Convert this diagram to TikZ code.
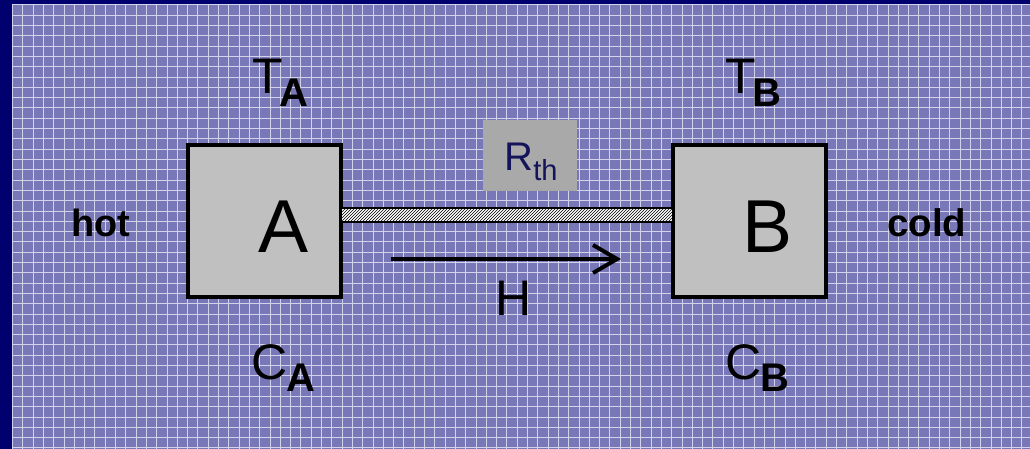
\documentclass[tikz,border=0pt]{standalone}
\usepackage{fontspec}
\setmainfont{Liberation Sans}
\usetikzlibrary{arrows.meta,patterns,calc}
\definecolor{bgc}{RGB}{120,120,184}
\definecolor{navyb}{RGB}{0,0,110}
\definecolor{gridc}{RGB}{210,210,234}
\definecolor{boxgray}{RGB}{192,192,192}
\definecolor{rgray}{RGB}{169,169,169}
\definecolor{rtext}{RGB}{20,20,90}
\newcommand{\fs}[1]{\fontsize{#1pt}{#1pt}\selectfont}
\begin{document}
\begin{tikzpicture}[x=1pt,y=-1pt,
  blk/.style={draw=black, line width=4pt, fill=boxgray, minimum width=153pt, minimum height=152pt, inner sep=0pt, outer sep=0pt},
  lbl/.style={inner sep=0pt, text=black},
  gridline/.style={gridc, line width=1pt}]
\useasboundingbox (0,0) rectangle (1030,449);
% background
\fill[navyb] (0,0) rectangle (1030,449);
\fill[bgc] (12,4.5) rectangle (1030,449);
\foreach \i in {0,...,99} \draw[gridline] ({12.5+10.3*\i},4.5) -- ({12.5+10.3*\i},449);
\foreach \j in {0,...,43} \draw[gridline] (12,{5+10.3*\j}) -- (1030,{5+10.3*\j});
% boxes
\node[blk] (A) at (264.5,221) {};
\node[blk] (B) at (749.5,221) {};
% bar
\fill[white] ($(A.east)+(0,-13)$) rectangle ($(B.west)+(0,1)$);
\fill[pattern=north east lines, pattern color=black] ($(A.east)+(0,-13)$) rectangle ($(B.west)+(0,1)$);
\draw[line width=1.5pt] ($(A.east)+(0,-13)$) rectangle ($(B.west)+(0,1)$);
% R_th
\node[fill=rgray, minimum width=94pt, minimum height=71pt, inner sep=0pt] (Rbox) at (530,155.5) {};
\node[inner sep=0pt, anchor=base, text=rtext] (Rlbl) at (531,171) {\fs{40}R\raisebox{-10pt}{\fs{29}th}};
% letters
\node[lbl, anchor=base] (Aname) at (283.5,252) {\fs{75}A};
\node[lbl, anchor=base] (Bname) at (768,252) {\fs{75}B};
% arrow
\coordinate (Hs) at (391,259);
\coordinate (He) at (621,259);
\draw[line width=4pt, -{Straight Barb[length=24pt,width=28pt]}] (Hs) -- (He);
\node[lbl, anchor=base] (Hlbl) at (514,315) {\fs{50}H};
% temperatures and capacities
\node[lbl, anchor=base west] (TA) at (252,94) {\fs{50}T\kern-3pt\raisebox{-13pt}{\fs{40}\bfseries A}};
\node[lbl, anchor=base west] (TB) at (725,94) {\fs{50}T\kern-3pt\raisebox{-13pt}{\fs{40}\bfseries B}};
\node[lbl, anchor=base west] (CA) at (251,379) {\fs{50}C\kern-1pt\raisebox{-12pt}{\fs{40}\bfseries A}};
\node[lbl, anchor=base west] (CB) at (725,379) {\fs{50}C\kern-1pt\raisebox{-12pt}{\fs{40}\bfseries B}};
% hot / cold
\node[lbl, anchor=base west] (hot) at (71,236) {\fs{38}\bfseries hot};
\node[lbl, anchor=base west] (cold) at (887,236) {\fs{38.5}\bfseries cold};
\end{tikzpicture}
\end{document}
